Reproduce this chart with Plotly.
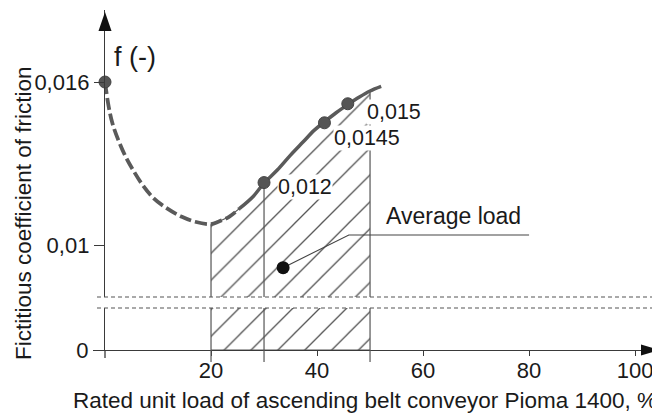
import plotly.graph_objects as go

# ---------------- data ----------------
load_pct = [0, 0.7, 1.4, 2.5, 3.9, 5.3, 7.1, 9.2, 11.7, 14.5, 17.0, 20.0, 21.4, 23.4,
            25.4, 28.0, 30.0, 32.5, 35.0, 37.4, 39.5, 41.4, 43.6, 45.8, 48.0, 50.0, 52.1]
friction = [0.0160, 0.01509, 0.01448, 0.01387, 0.01325, 0.01276, 0.01221, 0.01172,
            0.01135, 0.01104, 0.01086, 0.01077, 0.01086, 0.01104, 0.01135, 0.01180,
            0.01228, 0.01276, 0.01331, 0.01380, 0.01423, 0.01453, 0.01487, 0.01517,
            0.01545, 0.01567, 0.01584]
dashed_until = 25.4          # curve drawn dashed up to this load

marked_load = [0, 30, 41.4, 45.8]
marked_f = [0.016, 0.0123, 0.0145, 0.0152]

value_labels = ["0,012", "0,0145", "0,015"]
value_label_x = [32.5, 43.0, 49.2]
value_label_y = [0.01213, 0.01394, 0.01490]

hatch_from, hatch_mid, hatch_to = 20, 30, 50

avg_load_x, avg_load_f = 33.6, 0.00917
avg_leader_x = [33.6, 46.0, 80.0]
avg_leader_y = [0.00917, 0.01037, 0.01037]
avg_label = "Average load"
avg_label_x, avg_label_y = 52.6, 0.01107

x_tick_vals = [20, 40, 60, 80, 100]
y_tick_vals_upper = [0.01, 0.016]
y_tick_text_upper = ["0,01", "0,016"]
y_tick_vals_lower = [0]
y_tick_text_lower = ["0"]

x_title = "Rated unit load of ascending belt conveyor Pioma 1400, %"
y_title = "Fictitious coefficient of friction"
f_label = "f (-)"

# ---------------- layout geometry ----------------
# the page body adds an 8 px margin, so the figure is drawn 8 px smaller and
# every reference pixel position is shifted by that amount
OFF = 8
W, H = 660 - OFF, 414 - OFF
REF_PL, REF_PR, REF_PT, REF_PB = 105, 660, 10, 350   # plot area in reference pixels
ML, MT = REF_PL - OFF, REF_PT - OFF
MR, MB = W - (REF_PR - OFF), H - (REF_PB - OFF)

def px_x(p):
    return (p - REF_PL) / (REF_PR - REF_PL)

def px_y(p):
    return (REF_PB - p) / (REF_PB - REF_PT)

X_RANGE = [0, 104.7]
Y_UP_RANGE = [0.00809, 0.01865]
Y_LOW_RANGE = [0, 0.00155]
UP_DOMAIN = [px_y(297), 1]
LOW_DOMAIN = [0, px_y(308)]

FONT = "Liberation Sans, Arial, sans-serif"
TXT = "#1a1a1a"
AX = "#3a3a3a"
CURVE = "#5a5a5a"
HATCH = "#555555"

fig = go.Figure()

# upper hatched region (between curve and break)
inner = [(x, y) for x, y in zip(load_pct, friction) if hatch_from <= x <= hatch_to]
hx = [p[0] for p in inner] + [hatch_to, hatch_from, hatch_from]
hy = [p[1] for p in inner] + [Y_UP_RANGE[0] - 0.001, Y_UP_RANGE[0] - 0.001, inner[0][1]]
pattern = dict(shape="/", size=19, solidity=0.07, fgcolor=HATCH, bgcolor="rgba(0,0,0,0)",
               fillmode="replace")
fig.add_trace(go.Scatter(x=hx, y=hy, mode="lines", fill="toself",
                         fillcolor="rgba(0,0,0,0)", fillpattern=pattern,
                         line=dict(color=HATCH, width=1.2), hoverinfo="skip",
                         showlegend=False, xaxis="x", yaxis="y"))
mid_f = friction[load_pct.index(hatch_mid)]
fig.add_trace(go.Scatter(x=[hatch_mid, hatch_mid], y=[Y_UP_RANGE[0] - 0.001, mid_f],
                         mode="lines", line=dict(color=HATCH, width=1.2),
                         showlegend=False, xaxis="x", yaxis="y"))

# lower hatched region (below break)
top_low = Y_LOW_RANGE[1] + 0.001
fig.add_trace(go.Scatter(x=[hatch_from, hatch_to, hatch_to, hatch_from, hatch_from],
                         y=[0, 0, top_low, top_low, 0], mode="lines", fill="toself",
                         fillcolor="rgba(0,0,0,0)", fillpattern=pattern,
                         line=dict(color=HATCH, width=1.2), showlegend=False,
                         xaxis="x2", yaxis="y2"))
fig.add_trace(go.Scatter(x=[hatch_mid, hatch_mid], y=[0, top_low], mode="lines",
                         line=dict(color=HATCH, width=1.2), showlegend=False,
                         xaxis="x2", yaxis="y2"))

# curve: dashed then solid
i_split = load_pct.index(dashed_until)
fig.add_trace(go.Scatter(x=load_pct[:i_split + 1], y=friction[:i_split + 1], mode="lines",
                         line=dict(color=CURVE, width=3.8, dash="12px,4px", shape="spline"),
                         showlegend=False, xaxis="x", yaxis="y"))
fig.add_trace(go.Scatter(x=load_pct[i_split:], y=friction[i_split:], mode="lines",
                         line=dict(color=CURVE, width=3.5, shape="spline"),
                         showlegend=False, xaxis="x", yaxis="y"))

# marked points
fig.add_trace(go.Scatter(x=marked_load, y=marked_f, mode="markers",
                         marker=dict(size=12, color="#555555",
                                     line=dict(color="#444444", width=1)),
                         cliponaxis=False, showlegend=False, xaxis="x", yaxis="y"))

# average load
fig.add_trace(go.Scatter(x=avg_leader_x, y=avg_leader_y, mode="lines",
                         line=dict(color="#444444", width=1.1), showlegend=False,
                         xaxis="x", yaxis="y"))
fig.add_trace(go.Scatter(x=[avg_load_x], y=[avg_load_f], mode="markers",
                         marker=dict(size=13, color="#111111"), showlegend=False,
                         xaxis="x", yaxis="y"))

annotations = []
for t, x, y in zip(value_labels, value_label_x, value_label_y):
    annotations.append(dict(x=x, y=y, xref="x", yref="y", text=t, showarrow=False,
                            xanchor="left", yanchor="middle", bgcolor="white",
                            borderpad=0, font=dict(family=FONT, size=21.5, color=TXT)))
annotations.append(dict(x=avg_label_x, y=avg_label_y, xref="x", yref="y", text=avg_label,
                        showarrow=False, xanchor="left", yanchor="middle",
                        font=dict(family=FONT, size=23, color=TXT)))
annotations.append(dict(x=px_x(112), y=px_y(57), xref="paper", yref="paper", text=f_label,
                        showarrow=False, xanchor="left", yanchor="middle",
                        font=dict(family=FONT, size=27, color=TXT)))
annotations.append(dict(x=px_x(365), y=px_y(401), xref="paper", yref="paper", text=x_title,
                        showarrow=False, xanchor="center", yanchor="middle",
                        font=dict(family=FONT, size=22.5, color=TXT)))
annotations.append(dict(x=px_x(23), y=px_y(214), xref="paper", yref="paper", text=y_title,
                        textangle=-90, showarrow=False, xanchor="center", yanchor="middle",
                        font=dict(family=FONT, size=22.5, color=TXT)))

shapes = []
# axis break dashed lines
for py in (297, 308):
    shapes.append(dict(type="line", xref="paper", yref="paper", x0=px_x(97), x1=px_x(656),
                       y0=px_y(py), y1=px_y(py),
                       line=dict(color="#555555", width=1.2, dash="4px,3px")))
# arrowheads
shapes.append(dict(type="path", xref="paper", yref="paper",
                   path=f"M {px_x(105)},{px_y(12)} L {px_x(98.5)},{px_y(31)} "
                        f"L {px_x(111.5)},{px_y(31)} Z",
                   fillcolor="#111111", line=dict(width=0)))
shapes.append(dict(type="path", xref="paper", yref="paper",
                   path=f"M {px_x(660)},{px_y(350)} L {px_x(641)},{px_y(344.5)} "
                        f"L {px_x(641)},{px_y(355.5)} Z",
                   fillcolor="#111111", line=dict(width=0)))
# y-axis stub below x-axis and hatch borders below axis
shapes.append(dict(type="line", xref="paper", yref="paper", x0=0, x1=0,
                   y0=px_y(350), y1=px_y(358), line=dict(color=AX, width=1.3)))
for xv in (hatch_from, hatch_mid, hatch_to):
    shapes.append(dict(type="line", xref="x2", yref="paper", x0=xv, x1=xv,
                       y0=px_y(350), y1=px_y(362), line=dict(color=HATCH, width=1.2)))

tickfont = dict(family=FONT, size=22, color=TXT)
fig.update_layout(
    width=W, height=H, margin=dict(l=ML, r=MR, t=MT, b=MB, pad=0),
    paper_bgcolor="white", plot_bgcolor="rgba(0,0,0,0)",
    font=dict(family=FONT, color=TXT),
    showlegend=False,
    xaxis=dict(domain=[0, 1], range=X_RANGE, anchor="y", visible=False),
    xaxis2=dict(domain=[0, 1], range=X_RANGE, anchor="y2", showline=True,
                linecolor=AX, linewidth=1.3, ticks="outside", ticklen=5,
                tickcolor=AX, tickwidth=1.3, tickmode="array", tickvals=x_tick_vals,
                tickfont=tickfont, ticklabelstandoff=-5, showgrid=False, zeroline=False,
                automargin=False),
    yaxis=dict(domain=UP_DOMAIN, range=Y_UP_RANGE, anchor="x", showline=True,
               linecolor=AX, linewidth=1.3, ticks="outside", ticklen=10, tickcolor=AX,
               tickwidth=1.3, tickmode="array", tickvals=y_tick_vals_upper,
               ticktext=y_tick_text_upper, tickfont=tickfont, showgrid=False,
               zeroline=False, automargin=False),
    yaxis2=dict(domain=LOW_DOMAIN, range=Y_LOW_RANGE, anchor="x2", showline=True,
                linecolor=AX, linewidth=1.3, ticks="outside", ticklen=11, tickcolor=AX,
                tickwidth=1.3, tickmode="array", tickvals=y_tick_vals_lower,
                ticktext=y_tick_text_lower, tickfont=tickfont, showgrid=False,
                zeroline=False, automargin=False),
    annotations=annotations,
    shapes=shapes,
)

fig.write_html("out.html")
